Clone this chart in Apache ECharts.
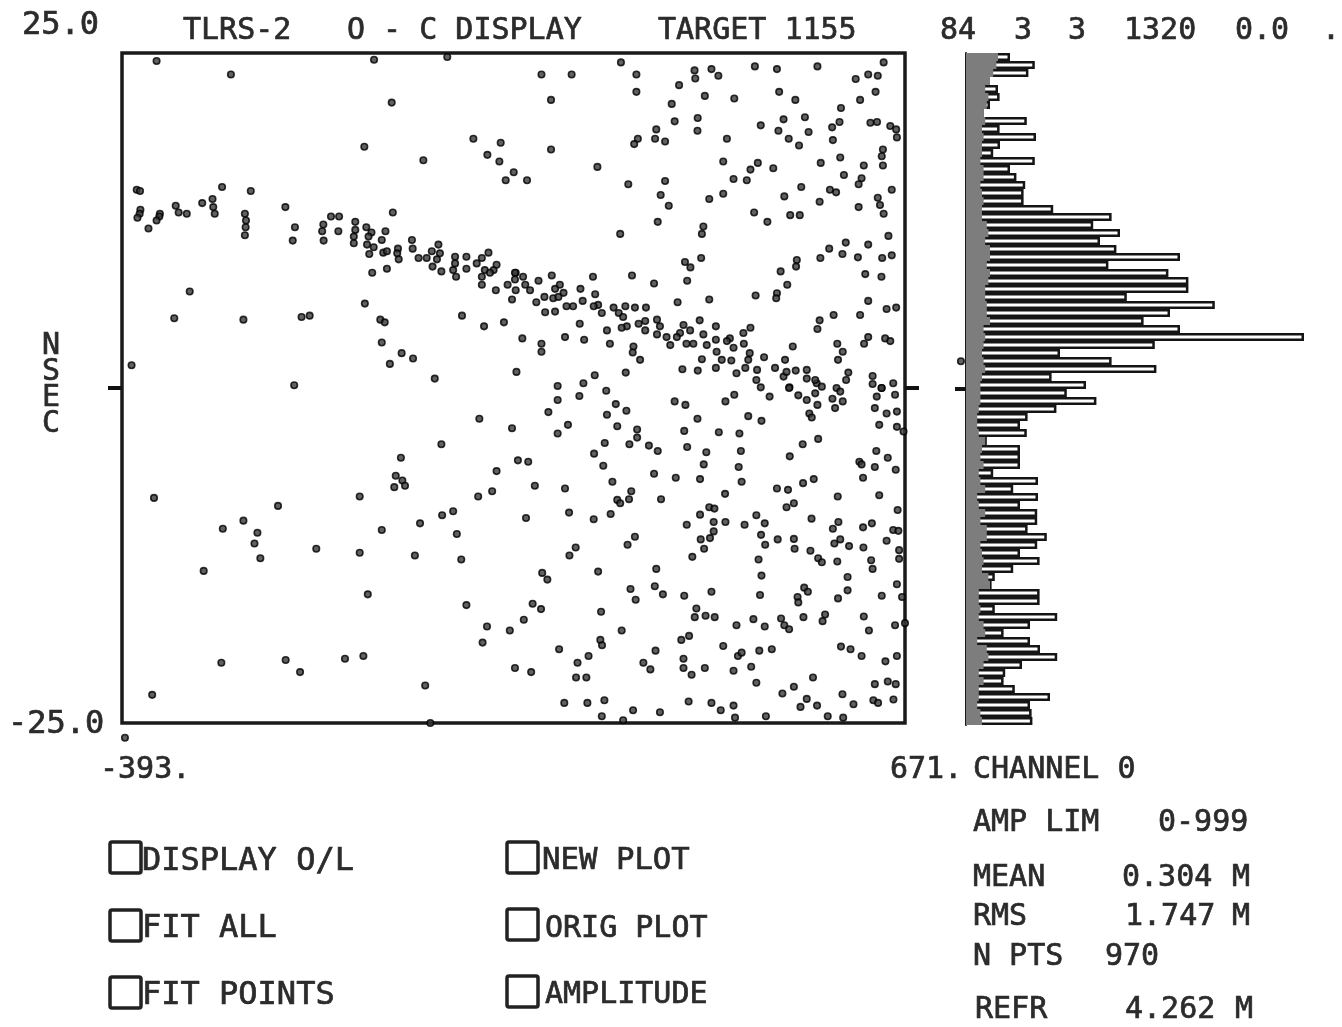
<!DOCTYPE html>
<html>
<head>
<meta charset="utf-8">
<title>TLRS-2 O - C DISPLAY</title>
<script src="https://cdn.jsdelivr.net/npm/echarts@6/dist/echarts.min.js"></script>
<style>html,body{margin:0;padding:0;background:#fff}#c{width:1342px;height:1027px}</style>
</head>
<body>
<div id="c"></div>
<script>
// O - C scatter: [time offset, residual in nsec]
const pointsUpperLeft = [
[-346,24.4],[-245,23.4],[-50.5,24.5],[49,24.7],[-26.5,21.3],[-63.7,18],[84.5,18.6],[121.6,18.3],[16.5,17],[103.5,17.4],[119.8,16.9],[139.3,16.1],[128.4,15.5],
[-373,14.8],[-368.5,14.7],[-257,15],[-218,14.7],[-270,14.1],[-284,13.8],[-320,13.6],[-316,13.1],[-305,13],[-368,13.3],[-369,13],[-372,12.7],[-341.5,13],[-342.3,12.8],[-346,12.5],[-357,11.9],
[-269,13.5],[-267,13],[-226,13],[-224.5,12.5],[-225,12],[-226,11.4],[-171,13.5],[-25,13.1],[-109,12.8],[-98,12.8],[-158,12],[-161,11],[-119.4,12.2],[-121,11.7],[-119,11],[-99,11.7],
[-76,12.4],[-76,11.8],[-78,11.3],[-78,10.8],[-61,12],[-54,11.6],[-58,11.3],[-60,10.7],[-51,10.5],[-38,10.1],[-40,11.05],[-35,11.7],[-33,10.2],[-57,10],[-18,10.4],[-19,10.05],[-17,9.6],
[1,11.05],[2,10.4],[10,9.7],[37,10.7],[39,10.05],[35,9.6],[21,9.7],[28,10.2],[29,9.06],[41,8.7],[59.6,9.8],[59.6,9.3],[57,8.8],[61,8.3],[75,9.8],[75,8.9],[105,10.1],[96,9.7],[89,9.3],[100,8.8],[112,8.8],[116,9.2],[96,8.3],[96,7.7],[107,8.6],[115,7.3],[131,7.7],[142,8.6],[141,8.1],[142,7.3],[137,6.6],
[-33,8.9],[-53,8.6],[-301,7.2],[-63,6.3],[-322,5.2],[-228,5.1],[-149,5.3],[-138,5.4],[-42,5.1],[-36,4.9],[69,5.4],[99,4.6],[126,4.9],[-40,3.4],[-13,2.6],[2.5,2.2],[-29,1.8],[143,1.2],[32,0.7],[-380,1.7],[-159,0.2]
];
const pointsUpperRight = [
[285,24.3],[177,23.4],[218,23.4],[306,23.4],[306,22.1],[190,21.5],[385,23.7],[386,23.1],[408,23.8],[417.4,23.3],[364,22.6],[467,24],[497,23.8],[552,24],[604,23.06],[621,23.4],[634,23.3],[642,24.3],[631,22.1],[610,21.5],[500,22.1],[522,21.5],[399,21.8],[439,21.6],[354,21.2],[584,20.9],[389.3,20.15],[358,19.9],[506,20.05],[535,20.2],[475,19.6],[582,19.85],[572,19.45],[624,19.8],[633,19.85],[651,19.55],[659,19.3],[660,18.7],
[333,19.3],[389,19.2],[499,19.2],[540,19.1],[331.4,18.6],[308,18.6],[303,18.2],[345,18.4],[429,18.6],[513,18.6],[527,18.1],[573,18.5],[190,17.8],[253,16.5],[424,16.9],[471,16.8],[461,16.3],[492,16.4],[556.5,16.8],[583,17.2],[641,17.8],[639.4,17.3],[641,16.6],[615,16.6],[588,15.9],[612,15.65],[608,15.2],[438,15.6],[456,15.5],[157.4,15.5],[295,15.2],[345,15.45],[530,15],[569,14.8],[577.4,14.6],[653,14.8],[339,14.4],[424,14.5],[405,14.1],[507,14.3],[555,13.9],[350,13.6],[634,14.2],[637,13.66],[642,13],[608,13.5],[466,13.1],[515,12.9],[528,12.9],[484,12.4],[335,12.4],[397,12.05],[395,11.5],[284,11.5],[648.5,11.35],[590.5,10.85],[621,10.7],[568,10.4],[586,10],[556,9.7],[607,9.75],[640,9.7],[653,9.9],[394,9.7],[372,9.4],[379.4,9],[524,9.55],[523,9.06],[502,8.7],[617,8.5],[639,8.3],[247,8.3],[300,8.4],[375,8],[330,7.8],[511,7.7],[497,7.07],[496,6.7],[468,6.9],[405,6.6],[362,6.4],[621,6.5],[646,5.9],[659,6],[574,5.45],[610,5.45],[555,5.05],[552,4.4],
[141,8.6],[152,8.3],[155,7.7],[161.5,7.3],[173,8],[191,8.4],[195.5,7.4],[202,7.7],[207,7.1],[193,6.7],[211,6.1],[220,6.1],[200,6.8],[230,7.4],[170,6.4],[181,6.8],[182,5.65],[195.5,5.7],[233,6.5],[229,4.8],[250,7],[254,6.2],[259,5.6],[248,6.1],[275,6],[282,5.6],[291,6.1],[304,6],[319,6],[288,5.3],[293,4.6],[286,4.5],[309,4.8],[318,4.3],[318,5],[266,4.3],[209,3.8],[235,3.6],[151,3.7],[177,3.3],[177,2.7],[270,3.3],[302,3.1],[301,2.65],[311,2.1],[249.4,0.95],[291.5,1.15],[199,0.15],[234,0.35],
[334,5.1],[338,4.6],[334,4],[347,3.8],[352,3.2],[370,4.7],[365.3,4.1],[379,4.3],[374,3.3],[383.4,3.3],[361,3.8],[397,4],[401.6,3.2],[392,5.05],[414,4.6],[414,3.6],[415,2.7],[451.4,4.1],[461,4.5],[433,3.7],[438,3],[429,3.5],[452,3.3],[518.5,3.1],[579,3.3],[586.4,2.7],[580,2.1],[621,3.8],[615.4,3.3],[644,3.7],[651,3.5],[395,2.15],[422,2.1],[435,2.05],[368.5,1.4],[389.4,1.3],[414,1.5],[458,2.1],[454,1.5],[442,1.1],[470,1.35],[460,2.6],[479.5,2.3],[508,2.1],[494.4,1.5],[506,0.85],[510,1.2],[522.5,1.3],[537.5,1.35],[537.5,0.7],[551,0.35],[549,0.6],[594,1.15],[591,0.6],[469,0.6],[475,0.05],[514,0.05],[627,0.9],[627,0.3],[655,0.35],[639.4,0],[578,0]
];
const pointsLowerLeft = [
[-349.5,-8.2],[-256,-10.5],[-228,-9.9],[-209,-10.8],[-213,-11.6],[-205,-12.7],[-181,-8.8],[-282,-13.65],[-129,-12],[-70,-8.1],[-70,-12.3],[-40,-10.6],[-59,-15.4],[-14,-5.2],[-21,-6.55],[-12,-6.9],[-8.4,-7.3],[-23,-7.4],[41,-4.2],[92.6,-2.3],[137,-3],[145,-5.4],[116,-6.2],[110,-7.7],[91,-8.1],[57,-9.2],[42,-9.5],[12,-10.1],[62,-10.9],[5,-12.5],[68,-12.8],[75,-16.2],[103,-17.8],[134,-18.1],[97,-19],[141,-20.9],[-258,-20.5],[-170.6,-20.3],[-151,-21.2],[-90,-20.2],[-65,-20],[19,-22.2],[-352,-22.9],[26,-25]
];
const pointsLowerRight = [
[265,-0.2],[199,-0.9],[228.5,-0.6],[186.4,-1.8],[278,-1.2],[292.4,-1.7],[266,-2],[213,-2.75],[199,-3.4],[280,-2.85],[307,-3.1],[307,-3.7],[263,-4.1],[296.5,-4.2],[323,-4.3],[335,-4.7],[248.5,-4.9],[261,-5.8],[159,-5.5],[168,-7.3],[209,-7.5],[273.4,-7],[330,-6.4],[359.5,-6.7],[392.5,-6.8],[299,-7.7],[280,-8.35],[284,-8.6],[296,-8.3],[339.5,-8.3],[214.5,-9.3],[271,-9.4],[248,-9.8],[156,-9.7],[304,-11.1],[294,-11.7],[223.5,-11.9],[215,-12.5],[254,-13.7],[178,-13.8],[185,-14.3],[333,-13.5],[298,-15],[331,-14.8],[342,-15.4],[305,-15.8],[165,-16.1],[176.4,-16.5],[258,-16.7],[153,-17.3],[286,-18.1],[257,-18.8],[259.3,-19.2],[201,-19.5],[241,-20],[226,-20.5],[163,-21.2],[224,-21.6],[238,-21.6],[208,-23.5],[239.4,-23.5],[262.5,-23.3],[259,-24.5],[288,-24.8],[301.5,-24.05],[338,-24.2],
[332,-19.6],[315.5,-20.5],[325,-21],[367,-18.8],[377.6,-18.5],[370,-20.2],[370,-20.9],[381,-21.4],[399,-20.9],[377,-23.4],[408,-23.5],[420.6,-24.05],[438,-23.7],[440,-24.6],[482,-24.5],[424,-19.25],[444,-20],[449,-19.75],[438,-21.1],[473,-19.6],[490,-19.5],[462,-20.8],[469,-22],[504.4,-22.8],[520,-22.3],[546,-21.6],[537.5,-23.2],[529,-23.8],[551.5,-23.7],[566,-24.5],[586,-22.85],[601,-23.6],[587,-24.6],[584,-19.3],[597,-19.5],[612,-20],[644.4,-20.4],[660,-20],[630,-22.1],[647.6,-21.9],[658.4,-22.1],[628,-23.3],[634.4,-23.5],[655.3,-23.25],
[371,-3.2],[418,-3.3],[446,-3.4],[389,-2.3],[358,-1],[372.6,-1.26],[427,-1],[439,-0.5],[487,-0.64],[458,-2.1],[476,-2.45],[513.5,0],[526,-0.55],[537.5,-0.9],[549,-0.4],[558,0.1],[552,-1.26],[541,-1.9],[544.3,-2.2],[572.4,-0.8],[583,-0.27],[586.4,-1],[576,-1.5],[632.6,-0.64],[639,0],[630,-1.5],[657.5,-0.5],[646,-1.9],[660,-1.76],[636,-2.75],[660,-2.9],[669,-3.25],
[375,-4.4],[401,-4.8],[448,-4.7],[397.5,-5.7],[445,-5.9],[449,-7],[426.5,-7.9],[514.4,-5.1],[532,-4.2],[553,-3.8],[609,-5.5],[612,-5.7],[632,-4.7],[647.6,-5.2],[630,-5.9],[658.4,-6.1],[614,-6.7],[547,-6.8],[532.5,-7.1],[512,-7.6],[497,-7.5],[579.6,-8.1],[636,-8],[520,-8.6],[510,-8.9],[661,-9.1],[469,-9.5],[405,-8.9],[412,-9],[392.5,-9.45],[411,-10],[427,-10],[453,-10.2],[480.4,-10.1],[374.4,-10.2],[544,-9.75],[580.5,-10],[573,-10.5],[614,-10.4],[626,-10.1],[655,-10.6],[662,-10.66],[475.4,-10.96],[411,-10.7],[406,-11.2],[393.4,-11.3],[481,-11.7],[498,-11.3],[520,-11.26],[398,-12],[521,-12],[542.5,-12.15],[583,-11.3],[575,-11.6],[595,-11.8],[614.5,-11.9],[646,-11.4],[663,-12.1],[663,-12.75],[382,-12.6],[472,-12.8],[553,-12.7],[558,-13],[579,-12.95],[625,-12.85],[627,-13.5],[476,-14],[593,-14.1],[593,-15.1],[534,-14.9],[539,-15.2],[660,-14.65],[639.4,-15.5],[667,-15.6],[408,-15.2],[371,-15.5],[474,-15.45],[525,-15.6],[526,-16],[580,-15.7],[387.5,-16.45],[385.3,-17.1],[400,-17],[412.4,-17.1],[442,-17.7],[465,-17.25],[480.4,-17.8],[502.6,-17.2],[507,-17.7],[513.5,-18],[533,-17.1],[562.4,-16.9],[559,-17.4],[615,-17.05],[622,-18.1],[657.5,-17.7],[671,-17.55]
];
// Stray dots printed outside the frame
const strayPoints = [[-389,-26.1],[747,2]];
// Right-hand histogram, top bin first (estimated counts, no scale is printed)
const histCounts = [5.5,8.6,7.8,3,4,4.2,3,2.2,7.6,4.2,8.75,4.25,3.4,8.6,5.5,6.3,7.4,7.2,7.2,10.9,18.2,15.9,19.25,16.75,18.8,26.75,17.8,25.3,27.8,27.8,20.1,31.1,25.5,22.2,26.75,42.25,23.6,11.75,18.2,23.8,10.7,15,12.6,16.3,11.3,7.7,6.75,7.6,2.6,6.75,6.75,6.75,3.4,9,5.9,9,6.75,8.9,8.9,7.7,10.1,8.9,6.75,9.2,5.9,3.6,3.2,9.2,9.2,3.6,11.4,8,4.7,8,9.25,11.4,7,4.9,4.7,6.1,10.5,8,8.2,8.3];
const histBase = [4,3.8,3.4,3,2.4,2.8,2.6,2.2,2.4,2,2.2,2,2,1.8,2.2,2.2,1.8,2,2.2,2,2,2.6,2.8,2.4,3,3,2.6,3,2.8,2.4,2.4,2.6,2.6,3,2.2,2.4,2.2,2,2.2,2.4,2,1.8,1.8,1.8,1.6,1.4,1.4,1.6,2.4,2,1.8,2.2,1.6,1.8,2.4,1.4,1.6,2.4,1.8,2.6,2.6,1.8,2,2.2,2,2.8,3,1.6,1.6,1.8,1.6,2.2,2.4,1.4,2.6,2.8,2.2,1.6,2.2,1.6,1.6,1.4,1.8,2];
const histBins = histCounts.map((_, i) => String(i + 1));
const xTickLabels = ['-393.', '671.'];
const yTickLabels = ['25.0', '-25.0'];
const headerTexts = ['TLRS-2', 'O - C DISPLAY', 'TARGET 1155', '84', '3', '3', '1320', '0.0', '.'];
const checkboxes = ['DISPLAY O/L', 'FIT ALL', 'FIT POINTS', 'NEW PLOT', 'ORIG PLOT', 'AMPLITUDE'];

const ink = '#2b2b2b';
const mono = '"DejaVu Sans Mono", "Liberation Mono", monospace';
function txt(s, x, y, size) {
  return {type:'text', x:x, y:y + 2, silent:true,
    style:{text:s, fill:ink, stroke:ink, lineWidth:0.7, font:(size||30)+'px '+mono, textAlign:'left', textVerticalAlign:'middle', lineHeight:26}};
}
function box(x, y) {
  return {type:'rect', shape:{x:x, y:y, width:31, height:31, r:2}, silent:true,
    style:{fill:'#fff', stroke:'#222', lineWidth:3.5}};
}
const headerX = [183, 347, 658, 940, 1014, 1068, 1124, 1235, 1322];
const graphics = [];
headerTexts.forEach((t, i) => graphics.push(txt(t, headerX[i], 29)));
graphics.push(txt(yTickLabels[0], 22, 24, 32), txt(yTickLabels[1], 8, 723, 32));
graphics.push(txt(xTickLabels[0], 100, 768), txt(xTickLabels[1], 890, 768));
graphics.push(txt('N\nS\nE\nC', 42, 383, 30));
[['CHANNEL 0',973,768],['AMP LIM',973,821],['0-999',1158,821],['MEAN',973,876],['0.304',1122,876],['M',1232,876],
 ['RMS',973,915],['1.747',1125,915],['M',1232,915],['N PTS',973,955],['970',1105,955],['REFR',975,1008],['4.262',1125,1008],['M',1235,1008]]
 .forEach(a => graphics.push(txt(a[0], a[1], a[2])));
[[110,842,142,860,32],[110,910,142,927,32],[110,977,142,994,32],[507,842,542,859,30.7],[507,909,545,927,30],[507,976,545,993,30]]
 .forEach((p, i) => { graphics.push(box(p[0], p[1])); graphics.push(txt(checkboxes[i], p[2], p[3], p[4])); });

const chart = echarts.init(document.getElementById('c'), null, {renderer:'canvas'});
const zeroTick = {show:true, length:14, customValues:[0], lineStyle:{color:'#111', width:4}};
const noLine = {show:false, onZero:false};
chart.setOption({
  animation:false,
  backgroundColor:'#fff',
  graphic:graphics,
  grid:[
    {left:122, top:53, width:783, height:670, show:true, borderColor:'#1a1a1a', borderWidth:3.5, backgroundColor:'#fff'},
    {left:966, top:53, width:360, height:672, show:false}
  ],
  xAxis:[
    {gridIndex:0, type:'value', min:-393, max:671, axisLine:{show:false}, axisTick:{show:false}, axisLabel:{show:false}, splitLine:{show:false}},
    {gridIndex:1, type:'value', min:0, max:45, axisLine:{show:false}, axisTick:{show:false}, axisLabel:{show:false}, splitLine:{show:false}}
  ],
  yAxis:[
    {gridIndex:0, type:'value', min:-25, max:25, position:'left', axisLine:noLine, axisTick:zeroTick, axisLabel:{show:false}, splitLine:{show:false}},
    {gridIndex:0, type:'value', min:-25, max:25, position:'right', axisLine:noLine, axisTick:zeroTick, axisLabel:{show:false}, splitLine:{show:false}},
    {gridIndex:1, type:'category', inverse:true, data:histBins, position:'left', axisLine:{show:true, onZero:false, lineStyle:{color:'#1a1a1a', width:2}}, axisTick:{show:false}, axisLabel:{show:false}, splitLine:{show:false}},
    {gridIndex:1, type:'value', min:-25, max:25, position:'left', axisLine:noLine, axisTick:{show:true, length:11, customValues:[0], lineStyle:{color:'#111', width:4}}, axisLabel:{show:false}, splitLine:{show:false}}
  ],
  series:[
    {type:'scatter', xAxisIndex:0, yAxisIndex:0, clip:false, symbol:'circle', symbolSize:6.5,
     itemStyle:{color:'#3a3a3a', borderColor:'#000', borderWidth:1.6},
     data:[].concat(pointsUpperLeft, pointsUpperRight, pointsLowerLeft, pointsLowerRight, strayPoints)},
    {type:'bar', xAxisIndex:1, yAxisIndex:2, barWidth:'100%', barGap:'-100%', data:histCounts,
     itemStyle:{color:'#fff', borderColor:'#151515', borderWidth:2.5}},
    {type:'bar', xAxisIndex:1, yAxisIndex:2, barWidth:'100%', barGap:'-100%', data:histBase,
     itemStyle:{color:'#7d7d7d', borderColor:'#8a8a8a', borderWidth:0}}
  ]
});
</script>
</body>
</html>
